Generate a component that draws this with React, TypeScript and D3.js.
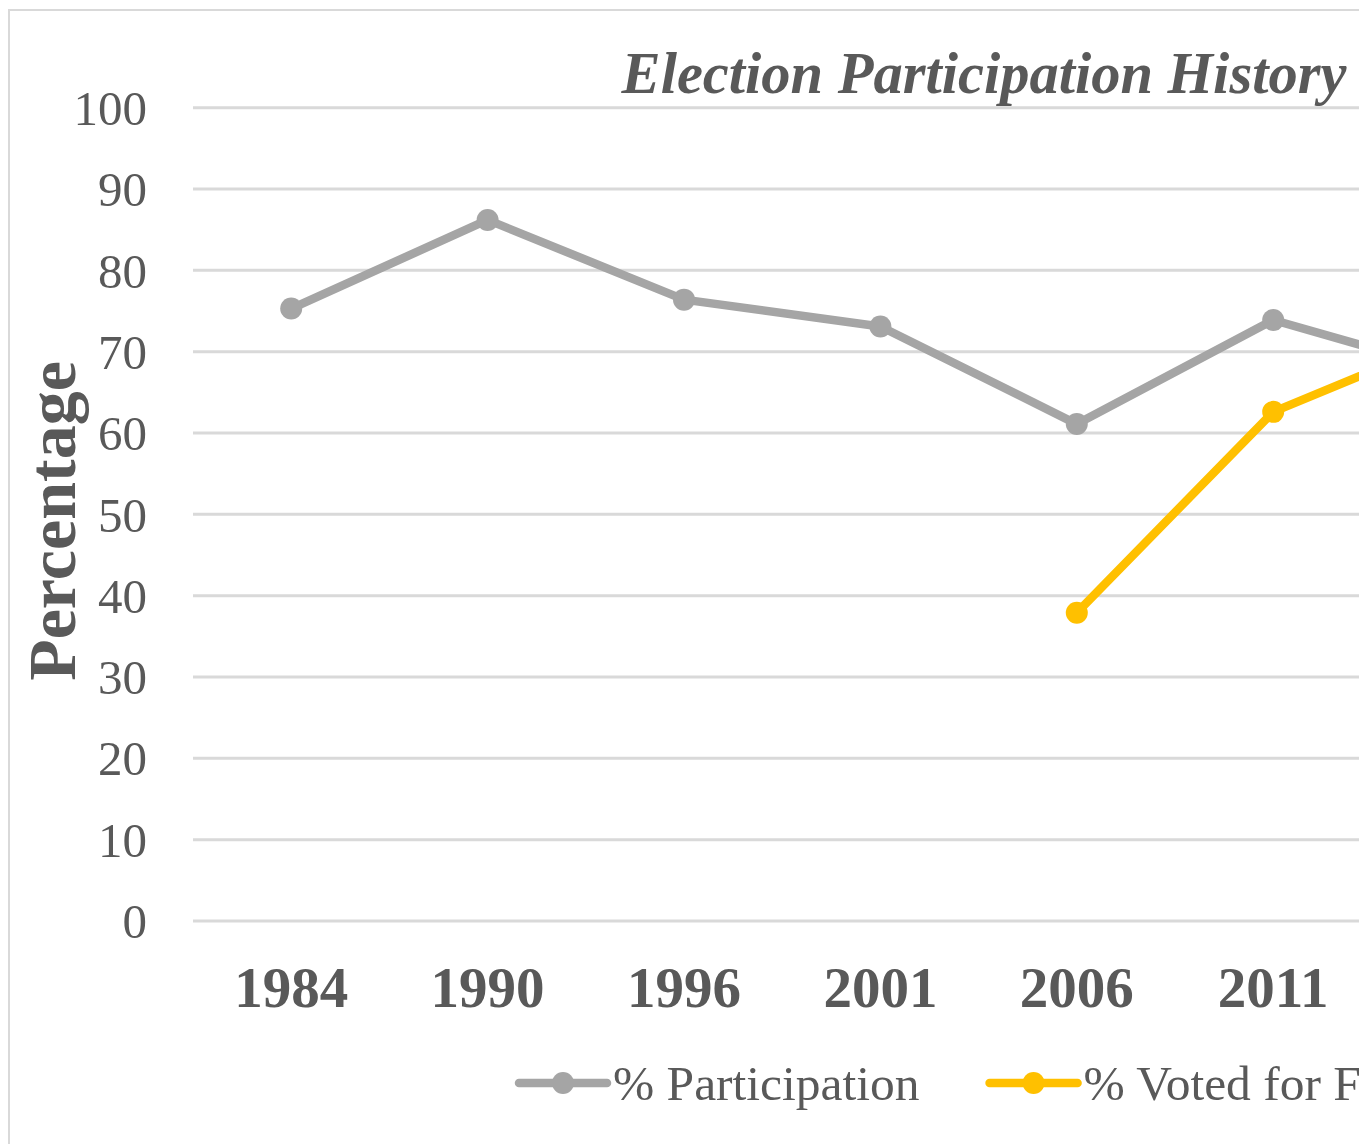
import React, { useEffect, useRef } from 'react';
import * as d3 from 'd3';

// election years (the last one sits past the right edge of the picture)
const years = ['1984', '1990', '1996', '2001', '2006', '2011', '2016'];
const participation = [75.3, 86.2, 76.4, 73.1, 61.1, 73.9, 67.0];
const votedFor: (number | null)[] = [null, null, null, null, 37.9, 62.6, 72.6];
const yTicks = [0, 10, 20, 30, 40, 50, 60, 70, 80, 90, 100];
const seriesNames = ['% Participation', '% Voted for FDC'];
const seriesColors = ['#a5a5a5', '#ffc000'];

const width = 1359;
const height = 1136;
const marginLeft = 185;
const bandStep = 196.4;
const yTop = 99.7;
const yBottom = 913;
const textColor = '#595959';
const font = '"Liberation Serif", "Times New Roman", serif';

const App: React.FC = () => {
  const svgRef = useRef<SVGSVGElement>(null);

  useEffect(() => {
    if (!svgRef.current) return;
    const svg = d3.select(svgRef.current);
    svg.selectAll('*').remove();

    const x = d3.scaleBand()
      .domain(years)
      .range([marginLeft, marginLeft + years.length * bandStep]);
    const y = d3.scaleLinear().domain([0, 100]).range([yBottom, yTop]);
    const cx = (d: string) => (x(d) || 0) + x.bandwidth() / 2;

    // chart frame
    svg.append('rect')
      .attr('x', 1).attr('y', 2)
      .attr('width', 1960).attr('height', 1300)
      .attr('fill', 'white')
      .attr('stroke', '#d9d9d9')
      .attr('stroke-width', 2);

    // gridlines
    svg.append('g')
      .selectAll('line')
      .data(yTicks)
      .enter()
      .append('line')
      .attr('x1', marginLeft)
      .attr('x2', marginLeft + years.length * bandStep + 200)
      .attr('y1', d => y(d))
      .attr('y2', d => y(d))
      .attr('stroke', '#d9d9d9')
      .attr('stroke-width', 3);

    // y tick labels
    svg.append('g')
      .selectAll('text')
      .data(yTicks)
      .enter()
      .append('text')
      .attr('x', 139)
      .attr('y', d => y(d))
      .attr('dy', '0.35em')
      .attr('text-anchor', 'end')
      .attr('font-family', font)
      .attr('font-size', 49)
      .attr('fill', textColor)
      .text(d => d);

    // x tick labels
    svg.append('g')
      .selectAll('text')
      .data(years)
      .enter()
      .append('text')
      .attr('x', d => cx(d))
      .attr('y', 999)
      .attr('text-anchor', 'middle')
      .attr('font-family', font)
      .attr('font-weight', 'bold')
      .attr('font-size', 57)
      .attr('fill', textColor)
      .text(d => d);

    // axis title
    svg.append('text')
      .attr('transform', `translate(67,513) rotate(-90)`)
      .attr('text-anchor', 'middle')
      .attr('font-family', font)
      .attr('font-weight', 'bold')
      .attr('font-size', 68)
      .attr('fill', textColor)
      .text('Percentage');

    // chart title
    svg.append('text')
      .attr('x', 976)
      .attr('y', 85)
      .attr('text-anchor', 'middle')
      .attr('font-family', font)
      .attr('font-weight', 'bold')
      .attr('font-style', 'italic')
      .attr('font-size', 58.5)
      .attr('fill', textColor)
      .text('Election Participation History');

    // series
    const allSeries = [participation, votedFor];
    allSeries.forEach((values, si) => {
      const pts = years
        .map((yr, i) => ({ yr, v: values[i] }))
        .filter(p => p.v !== null) as { yr: string; v: number }[];
      const line = d3.line<{ yr: string; v: number }>()
        .x(p => cx(p.yr))
        .y(p => y(p.v));
      svg.append('path')
        .datum(pts)
        .attr('d', line)
        .attr('fill', 'none')
        .attr('stroke', seriesColors[si])
        .attr('stroke-width', 8.5)
        .attr('stroke-linejoin', 'round');
      svg.append('g')
        .selectAll('circle')
        .data(pts)
        .enter()
        .append('circle')
        .attr('cx', p => cx(p.yr))
        .attr('cy', p => y(p.v))
        .attr('r', 11)
        .attr('fill', seriesColors[si]);
    });

    // legend
    const legend = svg.append('g').attr('transform', 'translate(511,1075)');
    let lx = 0;
    seriesNames.forEach((name, i) => {
      const item = legend.append('g').attr('transform', `translate(${lx},0)`);
      item.append('line')
        .attr('x1', 0).attr('x2', 88)
        .attr('stroke', seriesColors[i])
        .attr('stroke-width', 8.5)
        .attr('stroke-linecap', 'round');
      item.append('circle')
        .attr('cx', 44).attr('r', 11)
        .attr('fill', seriesColors[i]);
      const t = item.append('text')
        .attr('x', 94)
        .attr('y', 17)
        .attr('font-family', font)
        .attr('font-size', 49.5)
        .attr('fill', textColor)
        .text(name);
      const w = (t.node() as SVGTextElement).getComputedTextLength();
      lx += 94 + w + 70;
    });
  }, []);

  return (
    <div style={{ width, height, overflow: 'hidden' }}>
      <svg ref={svgRef} width={2000} height={height} style={{ display: 'block' }} />
    </div>
  );
};

export default App;
